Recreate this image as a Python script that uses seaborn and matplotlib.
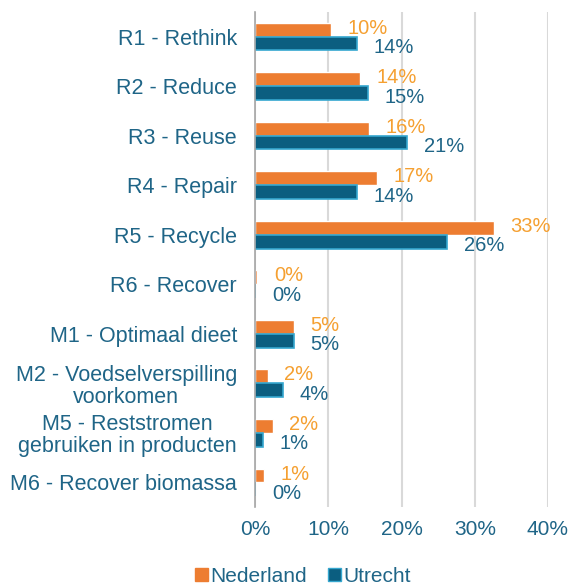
import numpy as np
import pandas as pd
import matplotlib
matplotlib.use("Agg")
import matplotlib.pyplot as plt
import seaborn as sns

# data (fractions)
categories = ["R1 - Rethink", "R2 - Reduce", "R3 - Reuse", "R4 - Repair", "R5 - Recycle",
              "R6 - Recover", "M1 - Optimaal dieet", "M2 - Voedselverspilling\nvoorkomen",
              "M5 - Reststromen\ngebruiken in producten", "M6 - Recover biomassa"]
nederland = [0.104, 0.143, 0.155, 0.166, 0.326, 0.003, 0.053, 0.017, 0.024, 0.012]
utrecht = [0.139, 0.154, 0.208, 0.139, 0.262, 0.0, 0.053, 0.038, 0.011, 0.0]
series = ["Nederland", "Utrecht"]

ORANGE = "#ED7D31"
BLUE = "#0B5E80"
BLUE_EDGE = "#35A7CF"
LBL_ORANGE = "#F5A031"
LBL_BLUE = "#1F6587"
TXT = "#1F6587"

df = pd.DataFrame({
    "cat": categories * 2,
    "val": nederland + utrecht,
    "serie": [series[0]] * len(categories) + [series[1]] * len(categories),
})

sns.set_style("white")
plt.rcParams["font.family"] = ["Liberation Sans", "DejaVu Sans"]

fig = plt.figure(figsize=(5.72, 5.87), dpi=100)
ax = fig.add_axes([0.446, 0.136, 0.512, 0.844])

sns.barplot(data=df, y="cat", x="val", hue="serie", orient="h",
            palette=[ORANGE, BLUE], width=0.56, ax=ax, legend=False,
            saturation=1)

# cyan edge on the Utrecht bars
for bar in ax.containers[1]:
    bar.set_edgecolor(BLUE_EDGE)
    bar.set_linewidth(1.2)

# data labels
for cont, vals, col, dy in [(ax.containers[0], nederland, LBL_ORANGE, 1),
                            (ax.containers[1], utrecht, LBL_BLUE, -3)]:
    for bar, v in zip(cont, vals):
        y = bar.get_y() + bar.get_height() / 2
        ax.annotate(f"{round(v * 100):.0f}%", (bar.get_width(), y),
                    xytext=(12, dy), textcoords="offset points",
                    ha="left", va="center", fontsize=14.5, color=col)

ax.set_xlim(0, 0.4)
ax.set_xticks([0, 0.1, 0.2, 0.3, 0.4])
ax.set_xticklabels(["0%", "10%", "20%", "30%", "40%"])
ax.xaxis.grid(True, color="#D9D9D9", lw=1.5)
ax.set_axisbelow(True)
ax.set_xlabel("")
ax.set_ylabel("")
for s in ["top", "right", "bottom"]:
    ax.spines[s].set_visible(False)
ax.spines["left"].set_color("#A6A6A6")
ax.spines["left"].set_linewidth(1.2)
ax.tick_params(axis="x", length=0, labelsize=15, colors=TXT, pad=9)
ax.tick_params(axis="y", length=0, labelsize=15.5, colors=TXT, pad=13)
for t in ax.get_yticklabels():
    t.set_multialignment("center")
    t.set_linespacing(1.05)

handles = [plt.Rectangle((0, 0), 1, 1, color=ORANGE),
           plt.Rectangle((0, 0), 1, 1, facecolor=BLUE, edgecolor=BLUE_EDGE)]
fig.legend(handles, series, loc="lower center", bbox_to_anchor=(0.53, -0.03),
           ncol=2, frameon=False, fontsize=15, labelcolor=TXT,
           handlelength=0.6, handleheight=0.6, handletextpad=0.15, columnspacing=1.0)

fig.savefig("out.png", dpi=100)
